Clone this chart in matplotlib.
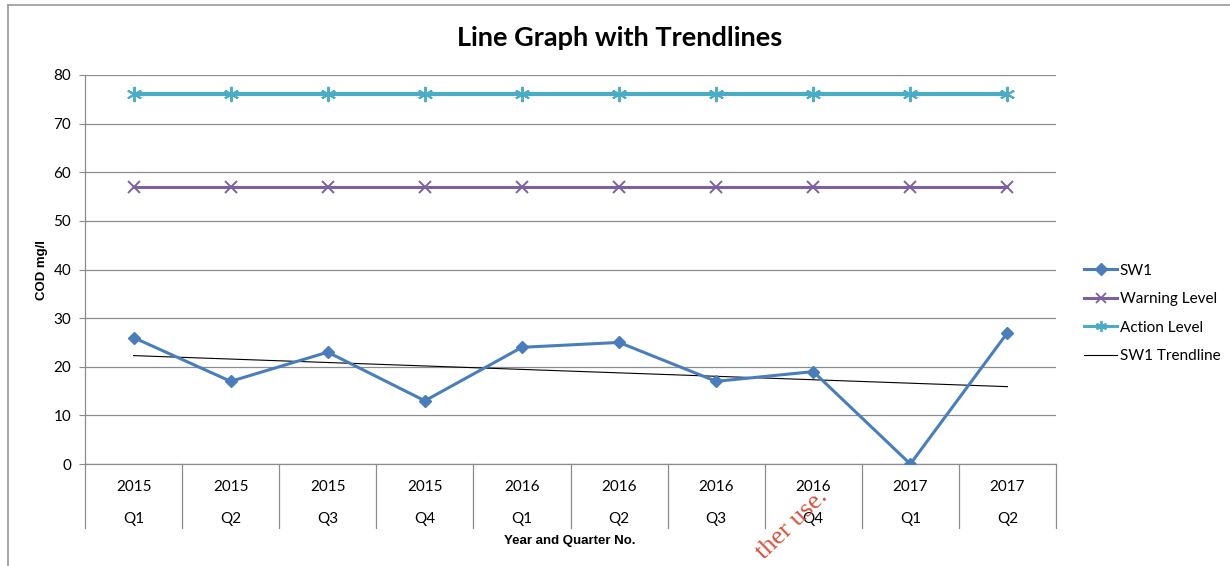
import numpy as np
import matplotlib.pyplot as plt
from matplotlib.lines import Line2D

# Data
years = ['2015', '2015', '2015', '2015', '2016', '2016', '2016', '2016', '2017', '2017']
quarters = ['Q1', 'Q2', 'Q3', 'Q4', 'Q1', 'Q2', 'Q3', 'Q4', 'Q1', 'Q2']
sw1 = [26, 17, 23, 13, 24, 25, 17, 19, 0, 27]
warning_level = [57] * 10
action_level = [76] * 10

W, H = 1230, 566
fig = plt.figure(figsize=(W / 100, H / 100), dpi=100)

# plot area in pixels: left 85, right 1056, top 75, bottom 464
left, right, top, bottom = 85, 1056, 75, 464
ax = fig.add_axes([left / W, 1 - bottom / H, (right - left) / W, (bottom - top) / H])

x = np.arange(1, len(sw1) + 1)

c_sw1 = '#4a7ebb'
c_warn = '#7d60a0'
c_act = '#4bacc6'

ax.plot(x, action_level, color=c_act, lw=3.0, marker=(6, 2, 0), ms=11, mew=1.4, zorder=3)
ax.plot(x, warning_level, color=c_warn, lw=2.2, marker='x', ms=8, mew=1.4, zorder=3)
ax.plot(x, sw1, color=c_sw1, lw=2.2, marker='D', ms=6.5, zorder=4)

# linear trendline fitted to SW1
slope, icept = np.polyfit(x, sw1, 1)
ax.plot(x, slope * x + icept, color='black', lw=0.8, zorder=3)

ax.set_xlim(0.5, len(sw1) + 0.5)
ax.set_ylim(0, 80)
ax.set_yticks(range(0, 81, 10))
ax.yaxis.grid(True, color='#8c8c8c', lw=0.9)
ax.set_axisbelow(True)

for s in ['top', 'right']:
    ax.spines[s].set_visible(False)
for s in ['left', 'bottom']:
    ax.spines[s].set_color('#8c8c8c')
    ax.spines[s].set_linewidth(0.9)

ax.tick_params(axis='y', length=4, color='#8c8c8c', labelsize=11, pad=6)
for lab in ax.get_yticklabels():
    lab.set_family('Lato')

# category axis: boundaries with long dividers, two-level labels
ax.set_xticks(np.arange(0.5, len(sw1) + 1, 1))
ax.set_xticklabels([])
ax.tick_params(axis='x', length=0)
trans = ax.get_xaxis_transform()
div_len = (528 - bottom) / (bottom - top)
for b in np.arange(0.5, len(sw1) + 1, 1):
    ax.plot([b, b], [0, -div_len], transform=trans, color='#8c8c8c', lw=0.9, clip_on=False)
y_year = -(487 - bottom) / (bottom - top)
y_q = -(519 - bottom) / (bottom - top)
for xi, yr, q in zip(x, years, quarters):
    ax.text(xi, y_year, yr, transform=trans, ha='center', va='center', fontsize=11, family='Lato')
    ax.text(xi, y_q, q, transform=trans, ha='center', va='center', fontsize=11, family='Lato')

fig.text(570 / W, 1 - 541 / H, 'Year and Quarter No.', ha='center', va='center',
         fontsize=9.5, fontweight='bold', family='Liberation Sans')
fig.text(42 / W, 1 - 270 / H, 'COD mg/l', ha='center', va='center', rotation=90,
         fontsize=9.5, fontweight='bold', family='Liberation Sans')
fig.text(620 / W, 1 - 38 / H, 'Line Graph with Trendlines', ha='center', va='center',
         fontsize=19.5, fontweight='bold', family='Lato')

# legend
handles = [
    Line2D([0], [0], color=c_sw1, lw=2.2, marker='D', ms=6),
    Line2D([0], [0], color=c_warn, lw=2.2, marker='x', ms=7, mew=1.3),
    Line2D([0], [0], color=c_act, lw=2.2, marker=(6, 2, 0), ms=8, mew=1.3),
    Line2D([0], [0], color='black', lw=0.8),
]
labels = ['SW1', 'Warning Level', 'Action Level', 'SW1 Trendline']
fig.legend(handles, labels, loc='upper left', bbox_to_anchor=(1070 / W, 1 - 250 / H),
           frameon=False, handlelength=2.2, handletextpad=0.15,
           labelspacing=0.95, prop={'family': 'Lato', 'size': 11})

# outer chart border (only top and left visible)
fig.add_artist(Line2D([8 / W, 8 / W], [0, 1 - 5 / H], color='#9a9a9a', lw=1.2))
fig.add_artist(Line2D([8 / W, 1], [1 - 5 / H, 1 - 5 / H], color='#9a9a9a', lw=1.2))

# partial watermark
fig.text(764 / W, 1 - 560 / H, 'ther use.', rotation=44, rotation_mode='anchor',
         ha='left', va='baseline', fontsize=19, color='#d2533f', family='Liberation Serif')

fig.savefig('out.png', dpi=100)
